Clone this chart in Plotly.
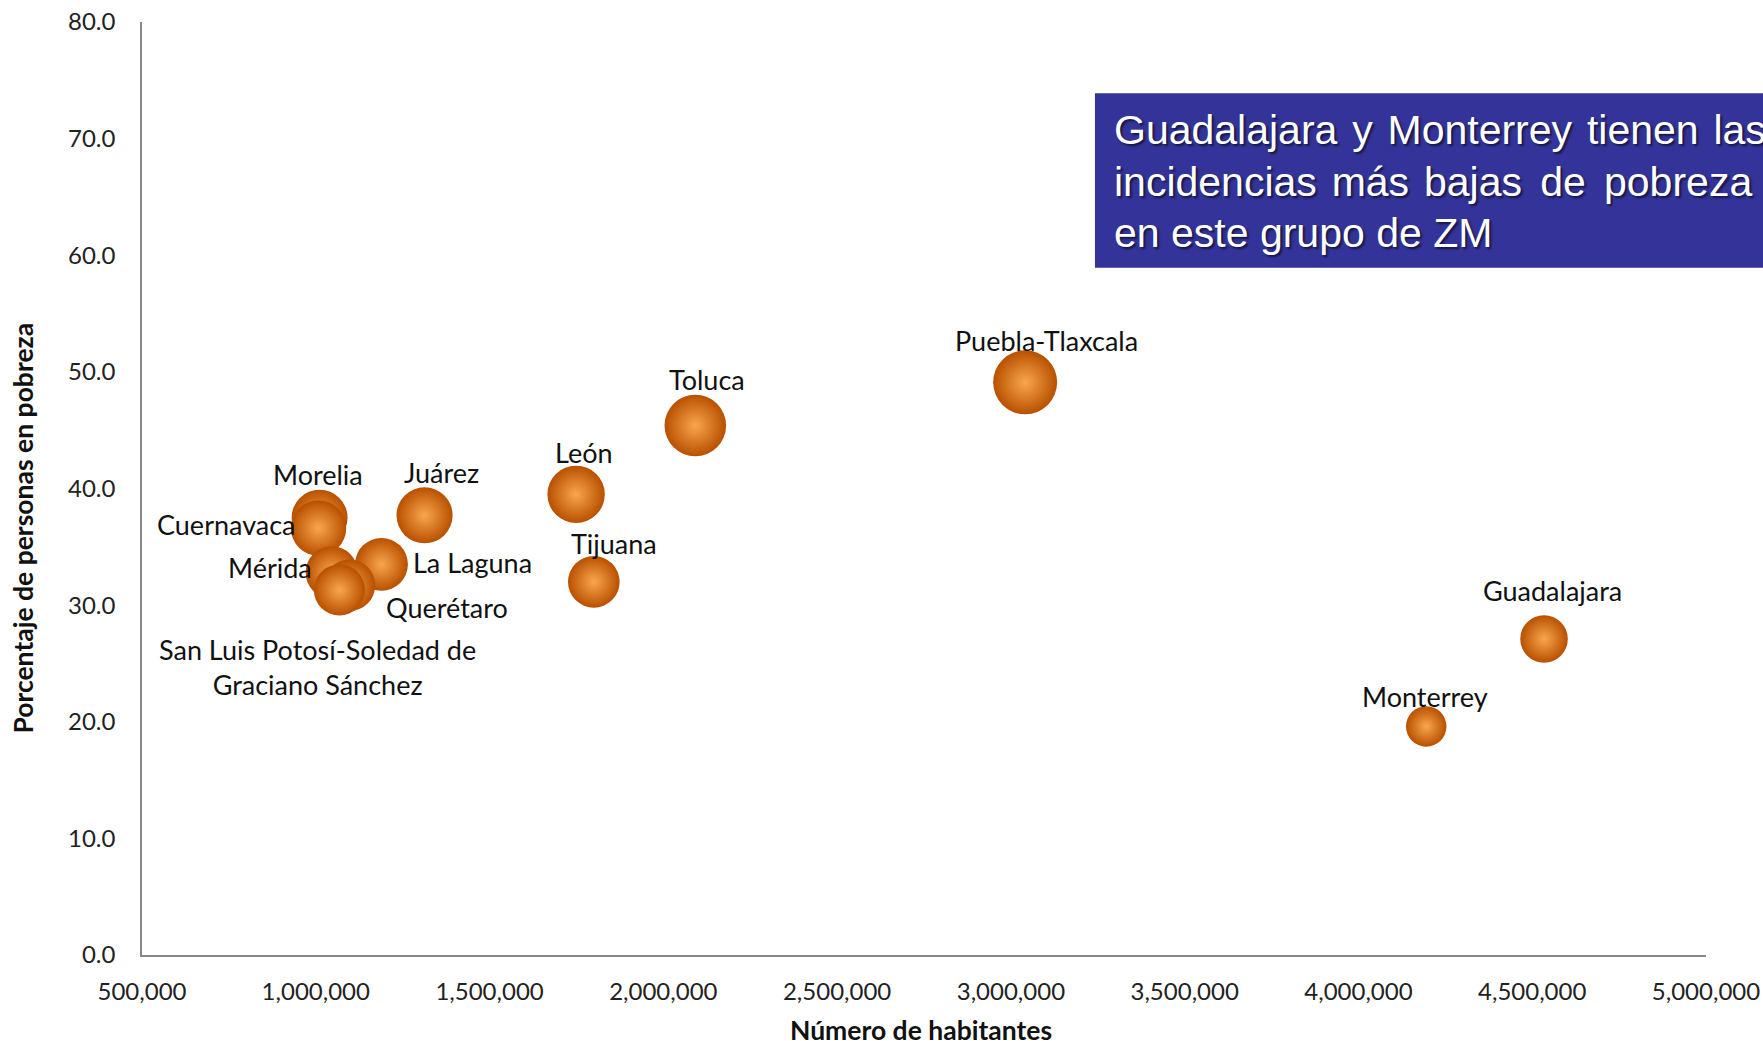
import plotly.graph_objects as go

# ---- data ----
zonas = ["Puebla-Tlaxcala", "Toluca", "León", "Juárez", "Morelia", "Cuernavaca",
         "La Laguna", "Mérida", "Tijuana", "Querétaro",
         "San Luis Potosí-Soledad de<br>Graciano Sánchez", "Guadalajara", "Monterrey"]
habitantes = [3041000, 2092000, 1749000, 1313000, 1011000, 1008000,
              1189000, 1046000, 1800000, 1097000, 1068000, 4534000, 4195000]
pobreza = [49.1, 45.4, 39.5, 37.7, 37.5, 36.6, 33.5, 32.8, 32.0, 31.7, 31.3, 27.1, 19.6]

x_ticks = [500000, 1000000, 1500000, 2000000, 2500000, 3000000, 3500000, 4000000, 4500000, 5000000]
y_ticks = [0, 10, 20, 30, 40, 50, 60, 70, 80]

titulo_lineas = ["Guadalajara\u200a y\u200a Monterrey\u200a tienen\u200a las",
                 "incidencias\u200a más\u200a bajas\u200a\u200a de\u200a\u200a pobreza",
                 "en este grupo de ZM"]

# ---- styling ----
label_pos = {  # xanchor, xshift, yshift (px)
    "Puebla-Tlaxcala": ("center", 21, 42),
    "Toluca": ("center", 12, 46),
    "León": ("center", 8, 42),
    "Juárez": ("center", 17, 43),
    "Morelia": ("center", -2, 43),
    "Cuernavaca": ("right", -21, 4),
    "La Laguna": ("left", 30, 2),
    "Mérida": ("right", -18, 5),
    "Tijuana": ("center", 20, 38),
    "Querétaro": ("left", 35, -22),
    "San Luis Potosí-Soledad de<br>Graciano Sánchez": ("center", -22, -77),
    "Guadalajara": ("center", 8, 48),
    "Monterrey": ("center", -1, 30),
}
MAX_DIAM = 64
LABEL_FONT = dict(family="Lato, Open Sans, sans-serif", size=27, color="#111111")
TICK_FONT = dict(family="Lato, Open Sans, sans-serif", size=24, color="#222222")
AXIS_COLOR = "#888888"

fig = go.Figure()
fig.add_trace(go.Scatter(
    x=habitantes, y=pobreza, mode="markers",
    marker=dict(
        size=pobreza, sizemode="area", sizeref=2 * max(pobreza) / MAX_DIAM ** 2,
        color="#B85000",
        gradient=dict(type="radial", color="#F9A64E"),
        line=dict(width=0), opacity=1,
    ),
    hoverinfo="skip", showlegend=False,
))

for name, hx, py in zip(zonas, habitantes, pobreza):
    xa, xs, ys = label_pos[name]
    fig.add_annotation(x=hx, y=py, xref="x", yref="y", text=name, showarrow=False,
                       xanchor=xa, yanchor="middle", xshift=xs, yshift=ys,
                       font=LABEL_FONT, align="center")

# title box
fig.add_shape(type="rect", xref="paper", yref="paper", x0=0.6093, x1=1.10, y0=0.7367, y1=0.9236,
              fillcolor="#333399", line=dict(width=0), layer="above")
for line, yp in zip(titulo_lineas, [0.8838, 0.8283, 0.7741]):
    fig.add_annotation(x=0.6199, y=yp, xref="paper", yref="paper", text=line, showarrow=False,
                       xanchor="left", yanchor="middle",
                       font=dict(family="Liberation Sans, Arial, sans-serif", size=41, color="white",
                                 shadow="2px 2px 2px rgba(0,0,0,0.55)"))

# axis titles
fig.add_annotation(x=0.498, y=-0.0800, xref="paper", yref="paper", text="<b>Número de habitantes</b>",
                   showarrow=False, xanchor="center", yanchor="middle",
                   font=dict(family="Lato, Open Sans, sans-serif", size=26.5, color="#111111"))
fig.add_annotation(x=-0.0767, y=0.4571, xref="paper", yref="paper",
                   text="<b>Porcentaje de personas en pobreza</b>", textangle=-90,
                   showarrow=False, xanchor="center", yanchor="middle",
                   font=dict(family="Lato, Open Sans, sans-serif", size=26.5, color="#111111"))

fig.update_layout(
    width=1763, height=1041,
    margin=dict(l=142, r=57, t=22, b=86, pad=0, autoexpand=False),
    paper_bgcolor="white", plot_bgcolor="white",
    xaxis=dict(range=[500000, 5000000], tickvals=x_ticks, tickformat=",", showgrid=False,
               zeroline=False, showline=True, linecolor=AXIS_COLOR, linewidth=1.5,
               ticks="outside", ticklen=14, tickcolor="rgba(0,0,0,0)", tickfont=TICK_FONT,
               ticklabeloverflow="allow", automargin=False),
    yaxis=dict(range=[0, 80], tickvals=y_ticks, tickformat=".1f", showgrid=False,
               zeroline=False, showline=True, linecolor=AXIS_COLOR, linewidth=1.5,
               ticks="outside", ticklen=20, tickcolor="rgba(0,0,0,0)", tickfont=TICK_FONT,
               ticklabeloverflow="allow", automargin=False),
)

fig.write_html("out.html", config={"displayModeBar": False},
               post_script="document.body.style.margin='0';document.body.style.overflow='hidden';")
